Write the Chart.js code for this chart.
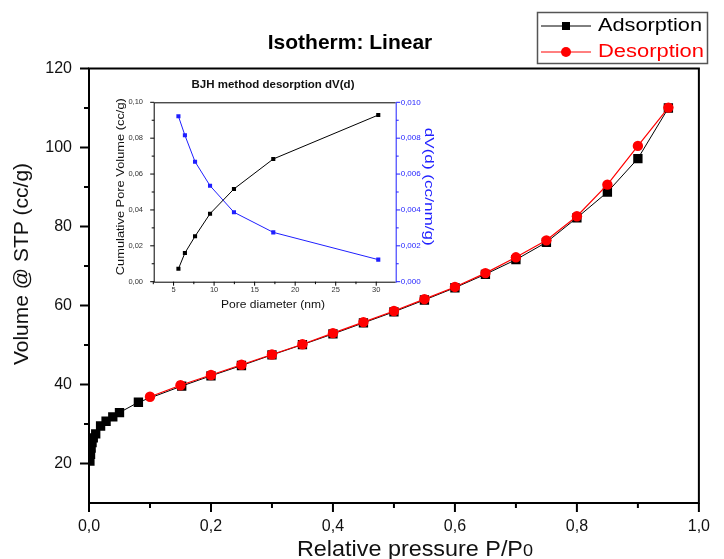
<!DOCTYPE html>
<html>
<head>
<meta charset="utf-8">
<title>Isotherm: Linear</title>
<script src="https://cdn.jsdelivr.net/npm/chart.js@4.4.1/dist/chart.umd.min.js"></script>
<style>
  body { margin: 0; background: #fff; }
  #wrap { position: relative; width: 724px; height: 559px; }
  #grafico-isoterma { position: absolute; left: 0; top: 0; }
  #grafico-bjh { position: absolute; left: 105px; top: 72px; }
</style>
</head>
<body>
<div id="wrap">
  <canvas id="grafico-isoterma" width="724" height="559"></canvas>
  <canvas id="grafico-bjh" width="345" height="240"></canvas>
</div>
<script>
// Isoterma (adsorcao / dessorcao)
const pressaoAds = [0.0015, 0.0025, 0.0035, 0.005, 0.007, 0.011, 0.019, 0.028, 0.039, 0.05, 0.081, 0.152, 0.2, 0.25, 0.3, 0.35, 0.4, 0.45, 0.5, 0.55, 0.6, 0.65, 0.7, 0.75, 0.8, 0.85, 0.9, 0.95];
const volumeAds = [20.6, 22.3, 23.9, 25.3, 26.5, 27.5, 29.5, 30.7, 31.8, 32.9, 35.5, 39.6, 42.2, 44.8, 47.5, 50.1, 52.8, 55.6, 58.4, 61.4, 64.5, 67.9, 71.6, 76.0, 82.2, 88.7, 97.2, 110.0];
const pressaoDes = [0.1, 0.15, 0.2, 0.25, 0.3, 0.35, 0.4, 0.45, 0.5, 0.55, 0.6, 0.65, 0.7, 0.75, 0.8, 0.85, 0.9, 0.95];
const volumeDes = [36.9, 39.8, 42.4, 45.0, 47.6, 50.2, 53.0, 55.8, 58.6, 61.6, 64.7, 68.2, 72.2, 76.5, 82.6, 90.6, 100.4, 110.1];
const ticksPressao = [0, 0.2, 0.4, 0.6, 0.8, 1.0];
const ticksVolume = [20, 40, 60, 80, 100, 120];

// Inset BJH
const diametroPoro = [5.6, 6.4, 7.65, 9.5, 12.45, 17.3, 30.25];
const volumeCumulativo = [0.0072, 0.016, 0.0253, 0.0379, 0.0517, 0.0684, 0.0929];
const dVd = [0.00922, 0.00816, 0.00669, 0.00535, 0.00387, 0.00275, 0.00123];
const ticksDiametro = [5, 10, 15, 20, 25, 30];
const ticksCumulativo = [0, 0.02, 0.04, 0.06, 0.08, 0.10];
const ticksDvd = [0, 0.002, 0.004, 0.006, 0.008, 0.010];

const fonte = "Arial, 'Liberation Sans', sans-serif";
const virgula = (v, casas) => v.toFixed(casas).replace('.', ',');
const pontos = (xs, ys) => xs.map((x, i) => ({ x: x, y: ys[i] }));
const medios = (lista) => lista.slice(1).map((v, i) => (v + lista[i]) / 2);

// texto com largura forcada (o Origin exporta as fontes mais largas)
function textoLargura(ctx, txt, x, y, alvo) {
  const w = ctx.measureText(txt).width;
  ctx.save();
  ctx.translate(x, y);
  ctx.scale(alvo / w, 1);
  ctx.textAlign = 'center';
  ctx.fillText(txt, 0, 0);
  ctx.restore();
}

function ticksX(ctx, escala, valores, baseY, comp) {
  valores.forEach(v => {
    const px = escala.getPixelForValue(v);
    ctx.beginPath();
    ctx.moveTo(px, baseY);
    ctx.lineTo(px, baseY + comp);
    ctx.stroke();
  });
}

function ticksY(ctx, escala, valores, baseX, comp) {
  valores.forEach(v => {
    const py = escala.getPixelForValue(v);
    ctx.beginPath();
    ctx.moveTo(baseX, py);
    ctx.lineTo(baseX + comp, py);
    ctx.stroke();
  });
}

const pluginIsoterma = {
  id: 'isoterma',
  afterDraw(chart) {
    const { ctx, chartArea: a, scales } = chart;
    ctx.save();
    ctx.strokeStyle = '#000';
    ctx.lineWidth = 2;
    ctx.strokeRect(a.left, a.top, a.right - a.left, a.bottom - a.top);

    ticksX(ctx, scales.x, ticksPressao, a.bottom, 9);
    ticksX(ctx, scales.x, medios(ticksPressao), a.bottom, 5);
    ticksY(ctx, scales.y, ticksVolume, a.left, -9);
    ticksY(ctx, scales.y, medios(ticksVolume), a.left, -5);

    ctx.fillStyle = '#000';
    ctx.textBaseline = 'middle';
    ctx.textAlign = 'center';
    ctx.font = `bold 21px ${fonte}`;
    ctx.fillText('Isotherm: Linear', 350, 43);

    // titulo do eixo Y
    ctx.fillStyle = '#111';
    ctx.font = `21px ${fonte}`;
    ctx.save();
    ctx.translate(22, 264);
    ctx.rotate(-Math.PI / 2);
    ctx.fillText('Volume @ STP (cc/g)', 0, 0);
    ctx.restore();

    // titulo do eixo X com o "0" menor
    ctx.textBaseline = 'alphabetic';
    ctx.textAlign = 'left';
    ctx.font = `22px ${fonte}`;
    const parte1 = 'Relative pressure P/P';
    const w1 = ctx.measureText(parte1).width;
    ctx.font = `17px ${fonte}`;
    const w2 = ctx.measureText('0').width;
    const esc = 236 / (w1 + w2);
    ctx.save();
    ctx.translate(415 - 118, 555.5);
    ctx.scale(esc, 1);
    ctx.font = `22px ${fonte}`;
    ctx.fillText(parte1, 0, 0);
    ctx.font = `17px ${fonte}`;
    ctx.fillText('0', w1, 0.5);
    ctx.restore();

    // legenda
    ctx.strokeStyle = '#555';
    ctx.lineWidth = 1.5;
    ctx.strokeRect(537.5, 12.5, 170, 51);
    ctx.lineWidth = 1;
    ctx.strokeStyle = '#000';
    ctx.beginPath(); ctx.moveTo(541, 26); ctx.lineTo(591, 26); ctx.stroke();
    ctx.fillStyle = '#000';
    ctx.fillRect(562, 22, 8, 8);
    ctx.strokeStyle = '#ff0000';
    ctx.beginPath(); ctx.moveTo(541, 52); ctx.lineTo(591, 52); ctx.stroke();
    ctx.fillStyle = '#ff0000';
    ctx.beginPath(); ctx.arc(566, 52, 5, 0, Math.PI * 2); ctx.fill();

    ctx.textBaseline = 'middle';
    ctx.font = `18px ${fonte}`;
    ctx.fillStyle = '#000';
    textoLargura(ctx, 'Adsorption', 598 + 52, 26.5, 104);
    ctx.fillStyle = '#ff0000';
    textoLargura(ctx, 'Desorption', 598 + 53, 52.5, 106);
    ctx.restore();
  }
};

new Chart(document.getElementById('grafico-isoterma'), {
  type: 'scatter',
  data: {
    datasets: [
      {
        label: 'Desorption',
        data: pontos(pressaoDes, volumeDes),
        showLine: true,
        borderColor: '#ff0000',
        backgroundColor: '#ff0000',
        borderWidth: 1.2,
        pointStyle: 'circle',
        pointRadius: 5.2,
        pointBorderWidth: 0,
        order: 1
      },
      {
        label: 'Adsorption',
        data: pontos(pressaoAds, volumeAds),
        showLine: true,
        borderColor: '#000',
        backgroundColor: '#000',
        borderWidth: 1,
        pointStyle: 'rect',
        pointRadius: 6.6,
        pointBorderWidth: 0,
        order: 2
      }
    ]
  },
  options: {
    responsive: false,
    animation: false,
    devicePixelRatio: 1,
    layout: { padding: { top: 68.5, right: 14, left: 0, bottom: 0 } },
    plugins: { legend: { display: false }, tooltip: { enabled: false } },
    scales: {
      x: {
        type: 'linear', min: 0, max: 1,
        afterFit: s => { s.height = 56; },
        afterBuildTicks: s => { s.ticks = ticksPressao.map(v => ({ value: v })); },
        grid: { display: false, drawTicks: false },
        border: { display: false },
        ticks: { padding: 14, color: '#111', maxRotation: 0, autoSkip: false, font: { family: fonte, size: 16 }, callback: v => virgula(v, 1) }
      },
      y: {
        type: 'linear', min: 10, max: 120,
        afterFit: s => { s.width = 89; },
        afterBuildTicks: s => { s.ticks = ticksVolume.map(v => ({ value: v })); },
        grid: { display: false, drawTicks: false },
        border: { display: false },
        ticks: { padding: 17, color: '#111', autoSkip: false, font: { family: fonte, size: 16 }, callback: v => String(v) }
      }
    }
  },
  plugins: [pluginIsoterma]
});

// ---------- inset BJH ----------
const azul = '#1f1fff';

const pluginBjh = {
  id: 'bjh',
  afterDraw(chart) {
    const { ctx, chartArea: a, scales } = chart;
    ctx.save();
    ctx.lineWidth = 1;
    ctx.strokeStyle = '#000';
    ctx.beginPath();
    ctx.moveTo(a.right, a.top + 0.5);
    ctx.lineTo(a.left + 0.5, a.top + 0.5);
    ctx.lineTo(a.left + 0.5, a.bottom + 0.5);
    ctx.lineTo(a.right, a.bottom + 0.5);
    ctx.stroke();
    ticksX(ctx, scales.x, ticksDiametro, a.bottom, 4);
    ticksX(ctx, scales.x, medios(ticksDiametro).concat([2.5]), a.bottom, 2.5);
    ticksY(ctx, scales.y, ticksCumulativo, a.left + 0.5, -4);
    ticksY(ctx, scales.y, medios(ticksCumulativo), a.left + 0.5, -2.5);

    ctx.strokeStyle = azul;
    ctx.beginPath();
    ctx.moveTo(a.right + 0.5, a.top);
    ctx.lineTo(a.right + 0.5, a.bottom + 1);
    ctx.stroke();
    ticksY(ctx, scales.y2, ticksDvd, a.right + 0.5, 4);
    ticksY(ctx, scales.y2, medios(ticksDvd), a.right + 0.5, 2.5);

    ctx.textBaseline = 'middle';
    ctx.textAlign = 'center';
    ctx.fillStyle = '#111';
    ctx.font = `bold 11.5px ${fonte}`;
    ctx.fillText('BJH method desorption dV(d)', 168, 13);

    ctx.font = `10.5px ${fonte}`;
    textoLargura(ctx, 'Pore diameter (nm)', 168, 233, 104);

    ctx.save();
    ctx.translate(16.7, 114.7);
    ctx.rotate(-Math.PI / 2);
    ctx.font = `10px ${fonte}`;
    textoLargura(ctx, 'Cumulative Pore Volume (cc/g)', 0, 0, 177);
    ctx.restore();

    ctx.save();
    ctx.translate(323, 114.7);
    ctx.rotate(Math.PI / 2);
    ctx.fillStyle = azul;
    ctx.font = `12px ${fonte}`;
    textoLargura(ctx, 'dV(d) (cc/nm/g)', 0, 0, 118);
    ctx.restore();
    ctx.restore();
  }
};

new Chart(document.getElementById('grafico-bjh'), {
  type: 'scatter',
  data: {
    datasets: [
      {
        label: 'Cumulative Pore Volume',
        data: pontos(diametroPoro, volumeCumulativo),
        yAxisID: 'y',
        showLine: true,
        borderColor: '#000',
        backgroundColor: '#000',
        borderWidth: 1,
        pointStyle: 'rect',
        pointRadius: 2.9,
        pointBorderWidth: 0
      },
      {
        label: 'dV(d)',
        data: pontos(diametroPoro, dVd),
        yAxisID: 'y2',
        showLine: true,
        borderColor: azul,
        backgroundColor: azul,
        borderWidth: 1,
        pointStyle: 'rect',
        pointRadius: 2.9,
        pointBorderWidth: 0
      }
    ]
  },
  options: {
    responsive: false,
    animation: false,
    devicePixelRatio: 1,
    layout: { padding: { top: 30.3, right: 0, left: 0, bottom: 0 } },
    plugins: { legend: { display: false }, tooltip: { enabled: false } },
    scales: {
      x: {
        type: 'linear', min: 2.55, max: 32.4,
        afterFit: s => { s.height = 30.3; },
        afterBuildTicks: s => { s.ticks = ticksDiametro.map(v => ({ value: v })); },
        grid: { display: false, drawTicks: false },
        border: { display: false },
        ticks: { padding: 4, color: '#333', maxRotation: 0, autoSkip: false, font: { family: fonte, size: 7.5 }, callback: v => String(v) }
      },
      y: {
        type: 'linear', position: 'left', min: 0, max: 0.1,
        afterFit: s => { s.width = 48.7; },
        afterBuildTicks: s => { s.ticks = ticksCumulativo.map(v => ({ value: v })); },
        grid: { display: false, drawTicks: false },
        border: { display: false },
        ticks: { padding: 10.7, color: '#333', autoSkip: false, font: { family: fonte, size: 7.5 }, callback: v => virgula(v, 2) }
      },
      y2: {
        type: 'linear', position: 'right', min: 0, max: 0.01,
        afterFit: s => { s.width = 54.3; },
        afterBuildTicks: s => { s.ticks = ticksDvd.map(v => ({ value: v })); },
        grid: { display: false, drawTicks: false },
        border: { display: false },
        ticks: { padding: 5, color: azul, autoSkip: false, font: { family: fonte, size: 8 }, callback: v => virgula(v, 3) }
      }
    }
  },
  plugins: [pluginBjh]
});
</script>
</body>
</html>
